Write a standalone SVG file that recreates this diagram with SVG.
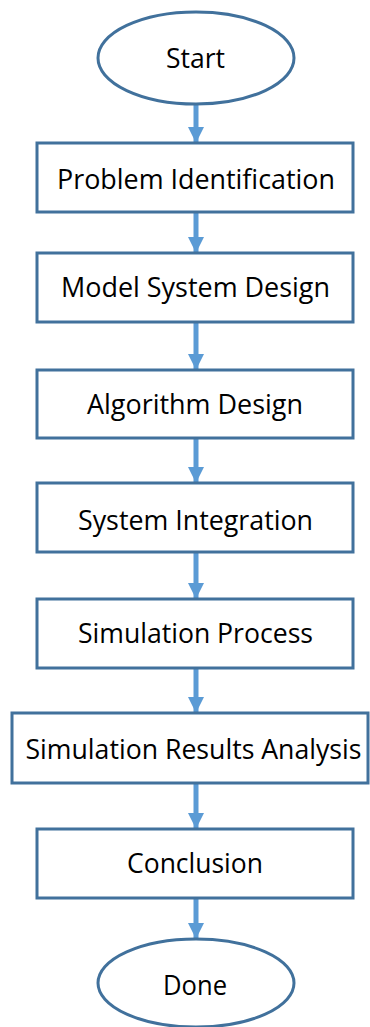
<svg xmlns="http://www.w3.org/2000/svg" width="370" height="1027" viewBox="0 0 370 1027">
<style>
.box{fill:#ffffff;stroke:#41719C;stroke-width:3}
.lbl{font-family:"Open Sans","Liberation Sans",sans-serif;font-size:28px;fill:#000000;text-anchor:middle}
.arr{stroke:#5B9BD5;stroke-width:5;fill:none}
</style>
<defs>
<marker id="ah2" markerUnits="userSpaceOnUse" markerWidth="16" markerHeight="16" refX="16" refY="8" orient="auto" viewBox="0 0 16 16">
<path d="M0,0 L16,8 L0,16 Z" fill="#5B9BD5"/>
</marker>
</defs>
<g id="connectors">
<line class="arr" x1="196" y1="104" x2="196" y2="143" marker-end="url(#ah2)"/>
<line class="arr" x1="196" y1="212" x2="196" y2="253" marker-end="url(#ah2)"/>
<line class="arr" x1="196" y1="322" x2="196" y2="370" marker-end="url(#ah2)"/>
<line class="arr" x1="196" y1="438" x2="196" y2="483" marker-end="url(#ah2)"/>
<line class="arr" x1="196" y1="552" x2="196" y2="599" marker-end="url(#ah2)"/>
<line class="arr" x1="196" y1="668" x2="196" y2="713" marker-end="url(#ah2)"/>
<line class="arr" x1="196" y1="783" x2="196" y2="829" marker-end="url(#ah2)"/>
<line class="arr" x1="196" y1="898" x2="196" y2="939" marker-end="url(#ah2)"/>
</g>
<g id="start">
<ellipse class="box" cx="196" cy="58" rx="98" ry="46"/>
<text class="lbl" x="195.5" y="68" textLength="59" lengthAdjust="spacingAndGlyphs">Start</text>
</g>
<g id="problem">
<rect class="box" x="37" y="143" width="316" height="69"/>
<text class="lbl" x="196" y="189" textLength="278" lengthAdjust="spacingAndGlyphs">Problem Identification</text>
</g>
<g id="model">
<rect class="box" x="37" y="253" width="316" height="69"/>
<text class="lbl" x="195.5" y="297" textLength="269" lengthAdjust="spacingAndGlyphs">Model System Design</text>
</g>
<g id="algorithm">
<rect class="box" x="37" y="370" width="316" height="68"/>
<text class="lbl" x="195" y="414" textLength="216" lengthAdjust="spacingAndGlyphs">Algorithm Design</text>
</g>
<g id="integration">
<rect class="box" x="37" y="483" width="316" height="69"/>
<text class="lbl" x="195.5" y="530" textLength="235" lengthAdjust="spacingAndGlyphs">System Integration</text>
</g>
<g id="simulation">
<rect class="box" x="37" y="599" width="316" height="69"/>
<text class="lbl" x="195.5" y="643" textLength="235" lengthAdjust="spacingAndGlyphs">Simulation Process</text>
</g>
<g id="results">
<rect class="box" x="12" y="713" width="356" height="70"/>
<text class="lbl" x="193.5" y="759" textLength="336" lengthAdjust="spacingAndGlyphs">Simulation Results Analysis</text>
</g>
<g id="conclusion">
<rect class="box" x="37" y="829" width="316" height="69"/>
<text class="lbl" x="195" y="873" textLength="136" lengthAdjust="spacingAndGlyphs">Conclusion</text>
</g>
<g id="done">
<ellipse class="box" cx="196" cy="983" rx="98" ry="44"/>
<text class="lbl" x="195" y="995" textLength="64" lengthAdjust="spacingAndGlyphs">Done</text>
</g>
</svg>
